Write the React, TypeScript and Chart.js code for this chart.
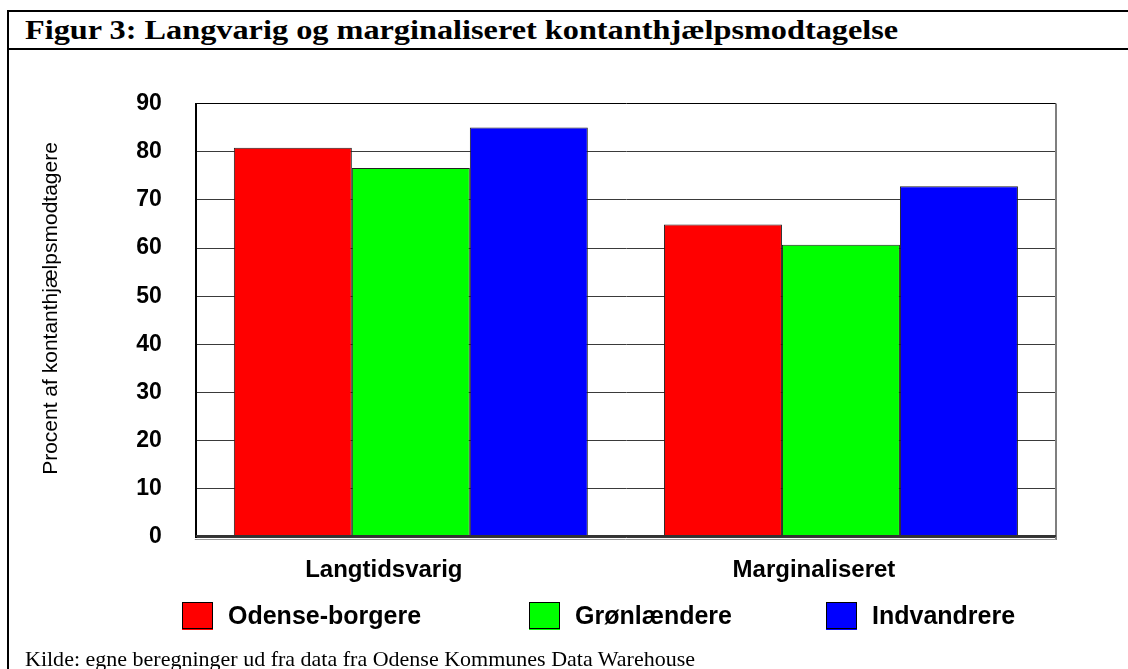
import React, { useEffect, useRef } from "react";
import { Chart, registerables } from "chart.js";

Chart.register(...registerables);

// ---- data ----
const categories = ["Langtidsvarig", "Marginaliseret"];
const seriesNames = ["Odense-borgere", "Grønlændere", "Indvandrere"];
const odenseValues = [80.8, 64.9];
const groenlaenderValues = [76.6, 60.7];
const indvandrerValues = [85.0, 72.8];
const yTickValues = [0, 10, 20, 30, 40, 50, 60, 70, 80, 90];
const yAxisTitle = "Procent af kontanthjælpsmodtagere";
const figureTitle = "Figur 3: Langvarig og marginaliseret kontanthjælpsmodtagelse";
const sourceText = "Kilde: egne beregninger ud fra data fra Odense Kommunes Data Warehouse";

// ---- styles ----
const seriesColors = ["#ff0000", "#00ff00", "#0000ff"];
const SANS = "'Liberation Sans', Arial, sans-serif";
const SERIF = "'Liberation Serif', 'Times New Roman', serif";
const LEGEND_X = [182, 529, 826];

const decorPlugin = {
  id: "decor",
  afterDraw(chart: any) {
    const { ctx, chartArea } = chart;
    const xScale = chart.scales.x;
    ctx.save();
    // right border
    ctx.strokeStyle = "#7f7f7f";
    ctx.lineWidth = 2;
    ctx.beginPath();
    ctx.moveTo(chartArea.right, chartArea.top);
    ctx.lineTo(chartArea.right, chartArea.bottom + 3);
    ctx.stroke();
    // bottom double line
    ctx.strokeStyle = "#333";
    ctx.lineWidth = 2;
    ctx.beginPath();
    ctx.moveTo(chartArea.left, chartArea.bottom - 1);
    ctx.lineTo(chartArea.right, chartArea.bottom - 1);
    ctx.stroke();
    ctx.strokeStyle = "#9a9a9a";
    ctx.lineWidth = 1;
    ctx.beginPath();
    ctx.moveTo(chartArea.left - 1, chartArea.bottom + 2.5);
    ctx.lineTo(chartArea.right, chartArea.bottom + 2.5);
    ctx.stroke();

    // y-axis title
    ctx.save();
    ctx.translate(51, 308.5);
    ctx.rotate(-Math.PI / 2);
    ctx.fillStyle = "#000";
    ctx.font = `21px ${SANS}`;
    ctx.textAlign = "center";
    ctx.textBaseline = "middle";
    ctx.fillText(yAxisTitle, 0, 0);
    ctx.restore();

    // category labels
    ctx.fillStyle = "#000";
    ctx.font = `bold 24px ${SANS}`;
    ctx.textAlign = "center";
    ctx.textBaseline = "middle";
    chart.data.labels.forEach((lab: string, i: number) => {
      const x = xScale.getPixelForValue(i) - 27;
      ctx.fillText(lab, x, chartArea.bottom + 33.5);
    });

    // legend
    ctx.font = `bold 25px ${SANS}`;
    ctx.textAlign = "left";
    chart.data.datasets.forEach((ds: any, i: number) => {
      const bx = LEGEND_X[i];
      const by = 602;
      ctx.fillStyle = ds.backgroundColor;
      ctx.fillRect(bx, by, 31, 27);
      ctx.strokeStyle = "#000";
      ctx.lineWidth = 1;
      ctx.strokeRect(bx + 0.5, by + 0.5, 30, 26);
      ctx.fillStyle = ds.backgroundColor;
      ctx.fillRect(bx, by + 27, 31, 1);
      ctx.fillStyle = "#000";
      ctx.fillText(ds.label, bx + 46, by + 15);
    });
    ctx.restore();
  },
};

export default function App() {
  const canvasRef = useRef<HTMLCanvasElement | null>(null);

  useEffect(() => {
    document.body.style.margin = "0";
    const canvas = canvasRef.current;
    if (!canvas) return;
    const valueSets = [odenseValues, groenlaenderValues, indvandrerValues];
    const chart = new Chart(canvas, {
      type: "bar",
      data: {
        labels: categories,
        datasets: seriesNames.map((name, i) => ({
          label: name,
          data: valueSets[i],
          backgroundColor: seriesColors[i],
          borderColor: "#222",
          borderWidth: 1,
          borderSkipped: false,
          categoryPercentage: 0.823,
          barPercentage: 1.0,
        })),
      },
      options: {
        responsive: false,
        animation: false,
        devicePixelRatio: 1,
        layout: { padding: { left: 38, top: 103.5, right: 72, bottom: 124 } },
        plugins: {
          legend: { display: false },
          tooltip: { enabled: false },
          title: { display: false },
        },
        scales: {
          x: {
            type: "category",
            offset: true,
            grid: { display: false },
            border: { display: false },
            ticks: { display: false },
          },
          y: {
            min: 0,
            max: 90,
            afterBuildTicks: (scale: any) => {
              scale.ticks = yTickValues.map((v) => ({ value: v }));
            },
            grid: {
              drawTicks: false,
              color: (c: any) => (c.tick && c.tick.value === 90 ? "#000" : "#3a3a3a"),
              lineWidth: 1,
            },
            border: { display: true, color: "#000", width: 2 },
            ticks: {
              padding: 34,
              color: "#000",
              font: { family: SANS, size: 23, weight: "bold" },
            },
            title: {
              display: true,
              text: yAxisTitle,
              color: "rgba(0,0,0,0)",
              font: { family: SANS, size: 21, weight: "normal" },
              padding: { top: 0, bottom: 39 },
            },
          },
        },
      },
      plugins: [decorPlugin],
    } as any);
    return () => chart.destroy();
  }, []);

  return (
    <div
      style={{
        position: "relative",
        width: 1128,
        height: 669,
        overflow: "hidden",
        background: "#fff",
      }}
    >
      <div
        style={{
          position: "absolute",
          left: 7,
          top: 10,
          width: 1200,
          height: 700,
          borderLeft: "2px solid #000",
          borderTop: "2px solid #000",
        }}
      />
      <div
        style={{
          position: "absolute",
          left: 7,
          top: 48,
          width: 1200,
          height: 2,
          background: "#000",
        }}
      />
      <div
        style={{
          position: "absolute",
          left: 25,
          top: 16,
          fontFamily: SERIF,
          fontWeight: "bold",
          fontSize: 28,
          lineHeight: "27px",
          whiteSpace: "nowrap",
          color: "#000",
          transform: "scaleX(1.153)",
          transformOrigin: "0 0",
        }}
      >
        {figureTitle}
      </div>
      <canvas
        ref={canvasRef}
        width={1128}
        height={669}
        style={{ position: "absolute", left: 0, top: 0, width: 1128, height: 669 }}
      />
      <div
        style={{
          position: "absolute",
          left: 25,
          top: 649,
          fontFamily: SERIF,
          fontSize: 21,
          lineHeight: "21px",
          whiteSpace: "nowrap",
          color: "#000",
          transform: "scaleX(1.048)",
          transformOrigin: "0 0",
        }}
      >
        {sourceText}
      </div>
    </div>
  );
}
